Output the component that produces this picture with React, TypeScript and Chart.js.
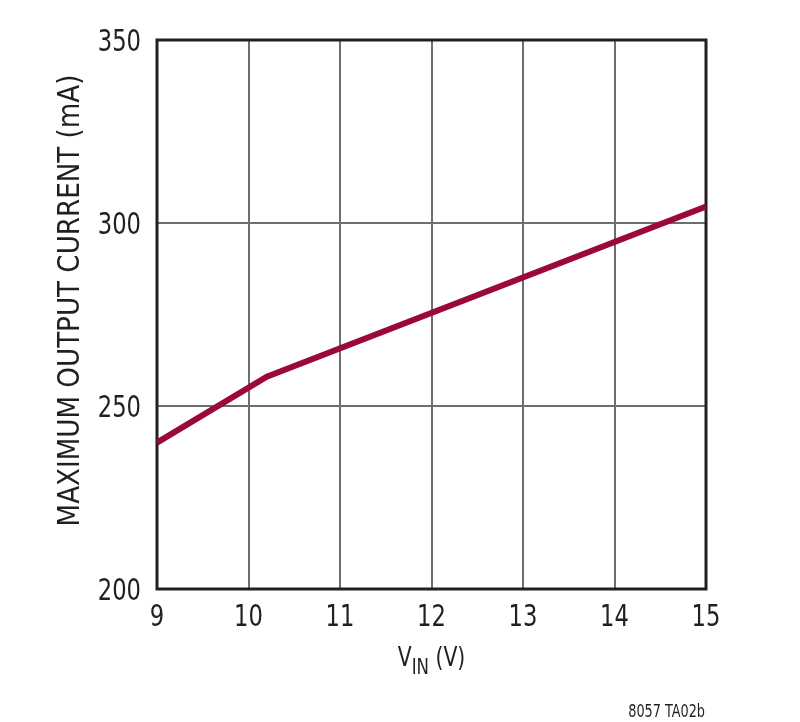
import React, { useEffect, useRef } from "react"
import { Chart, registerables } from "chart.js"

Chart.register(...registerables)

const vin = [9, 10.2, 15]
const currentMA = [240, 258, 304.5]
const xTicks = [9, 10, 11, 12, 13, 14, 15]
const yTicks = [200, 250, 300, 350]

const FONT = '"DejaVu Sans Condensed", "Liberation Sans Narrow", sans-serif'
const INK = "#231f20"

// the original uses a tall condensed face, so squeeze a normal one horizontally
function narrowText(
  ctx: CanvasRenderingContext2D,
  text: string,
  x: number,
  y: number,
  size: number,
  align: "left" | "center" | "right",
  sx = 0.84
) {
  ctx.save()
  ctx.font = `${size}px ${FONT}`
  const w = ctx.measureText(text).width * sx
  let left = x
  if (align === "center") left = x - w / 2
  if (align === "right") left = x - w
  ctx.translate(left, y)
  ctx.scale(sx, 1)
  ctx.textAlign = "left"
  ctx.fillText(text, 0, 0)
  ctx.restore()
  return w
}

function narrowWidth(ctx: CanvasRenderingContext2D, text: string, size: number, sx = 0.84) {
  ctx.save()
  ctx.font = `${size}px ${FONT}`
  const w = ctx.measureText(text).width * sx
  ctx.restore()
  return w
}

const decor = {
  id: "decor",
  beforeDatasetsDraw(chart: Chart) {
    const { ctx, chartArea: a } = chart
    ctx.save()
    ctx.strokeStyle = INK
    ctx.lineWidth = 3
    ctx.strokeRect(a.left, a.top, a.right - a.left, a.bottom - a.top)
    ctx.restore()
  },
  afterDraw(chart: Chart) {
    const { ctx, chartArea: a } = chart
    const xs = chart.scales.x
    const ys = chart.scales.y
    ctx.save()
    ctx.fillStyle = INK
    ctx.textBaseline = "alphabetic"

    // tick labels
    xTicks.forEach((v) => {
      narrowText(ctx, String(v), xs.getPixelForValue(v), a.bottom + 37, 30, "center")
    })
    yTicks.forEach((v) => {
      narrowText(ctx, String(v), 141, ys.getPixelForValue(v) + 11, 30, "right")
    })

    // x title: V_IN (V)
    const cx = (a.left + a.right) / 2
    const wV = narrowWidth(ctx, "V", 27)
    const wSub = narrowWidth(ctx, "IN", 22)
    const wRest = narrowWidth(ctx, " (V)", 27)
    let x = cx - (wV + wSub + wRest) / 2
    const base = 666
    x += narrowText(ctx, "V", x, base, 27, "left")
    x += narrowText(ctx, "IN", x, base + 8, 22, "left")
    narrowText(ctx, " (V)", x, base, 27, "left")

    // y title
    ctx.save()
    ctx.translate(79, (a.top + a.bottom) / 2 - 14)
    ctx.rotate(-Math.PI / 2)
    narrowText(ctx, "MAXIMUM OUTPUT CURRENT (mA)", 0, 0, 30, "center", 0.97)
    ctx.restore()

    // footnote
    narrowText(ctx, "8057 TA02b", 705, 717, 17, "right")
    ctx.restore()
  },
}

export default function App() {
  const canvasRef = useRef<HTMLCanvasElement>(null)
  const chartRef = useRef<Chart | null>(null)

  useEffect(() => {
    if (!canvasRef.current) return
    chartRef.current?.destroy()

    const points = vin.map((v, i) => ({ x: v, y: currentMA[i] }))

    chartRef.current = new Chart(canvasRef.current, {
      type: "scatter",
      data: {
        datasets: [
          {
            data: points,
            showLine: true,
            borderColor: "#9b0a36",
            borderWidth: 6,
            pointRadius: 0,
            tension: 0,
          },
        ],
      },
      options: {
        responsive: false,
        animation: false,
        devicePixelRatio: 1,
        layout: { padding: { left: 0, top: 40, right: 94, bottom: 0 } },
        plugins: { legend: { display: false }, tooltip: { enabled: false } },
        scales: {
          x: {
            type: "linear",
            min: xTicks[0],
            max: xTicks[xTicks.length - 1],
            afterBuildTicks: (s) => {
              s.ticks = xTicks.map((v) => ({ value: v }))
            },
            afterFit: (s) => {
              s.height = 133
            },
            grid: { color: "#6d6e71", lineWidth: 2, drawTicks: false },
            border: { display: false },
            ticks: { display: false },
          },
          y: {
            type: "linear",
            min: yTicks[0],
            max: yTicks[yTicks.length - 1],
            afterBuildTicks: (s) => {
              s.ticks = yTicks.map((v) => ({ value: v }))
            },
            afterFit: (s) => {
              s.width = 157
            },
            grid: { color: "#6d6e71", lineWidth: 2, drawTicks: false },
            border: { display: false },
            ticks: { display: false },
          },
        },
      },
      plugins: [decor],
    })

    return () => {
      chartRef.current?.destroy()
      chartRef.current = null
    }
  }, [])

  return (
    <div style={{ position: "absolute", left: 0, top: 0, width: 800, height: 722, background: "#fff" }}>
      <canvas ref={canvasRef} width={800} height={722} style={{ width: 800, height: 722 }} />
    </div>
  )
}
